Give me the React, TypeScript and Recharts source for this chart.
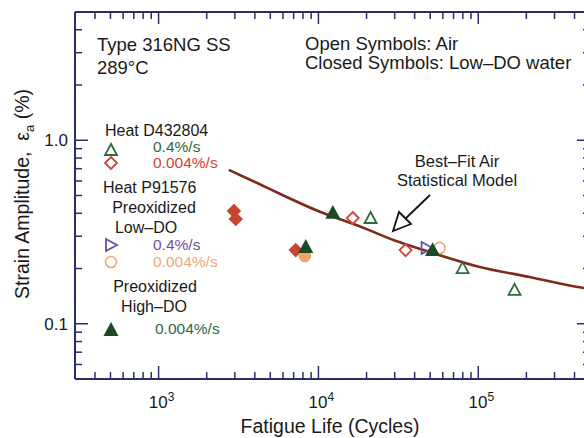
import React from 'react';
import { ComposedChart, Line, Scatter, XAxis, YAxis } from 'recharts';

const AXIS = '#2a2c6e';
const CURVE = '#7f2a1c';
const FONT = '"Liberation Sans", Arial, Helvetica, sans-serif';

const GREEN = '#2f6a3c';
const DARK_GREEN = '#1b4a24';
const RED = '#cc4535';
const PURPLE = '#6e50a4';
const ORANGE = '#f0a97a';

// axis ticks
const xTicks = [400, 500, 600, 700, 800, 900, 1000, 2000, 3000, 4000, 5000, 6000, 7000, 8000, 9000,
  10000, 20000, 30000, 40000, 50000, 60000, 70000, 80000, 90000, 100000, 200000, 300000, 400000];
const xMajor = [1000, 10000, 100000];
const yTicks = [0.06, 0.07, 0.08, 0.09, 0.1, 0.2, 0.3, 0.4, 0.5, 0.6, 0.7, 0.8, 0.9, 1, 2, 3, 4];
const yMajor = [0.1, 1];

// best-fit air statistical model
const curveLife = [2750, 4300, 5730, 10200, 18100, 30000, 49700, 102000, 209000, 449000, 470000];
const curveStrain = [0.69, 0.576, 0.511, 0.408, 0.34, 0.284, 0.246, 0.204, 0.18, 0.157, 0.156];

// Heat D432804, air, 0.4%/s (open triangles)
const airFastLife = [21200, 79800, 168600];
const airFastStrain = [0.377, 0.201, 0.153];
// Heat D432804, air, 0.004%/s (open diamonds)
const airSlowLife = [16400, 35100];
const airSlowStrain = [0.377, 0.252];
// closed diamonds, water 0.004%/s
const wetSlowLife = [2960, 3040, 7210];
const wetSlowStrain = [0.412, 0.372, 0.252];
// closed triangles
const wetFastLife = [12300, 8330, 51800];
const wetFastStrain = [0.402, 0.262, 0.252];
// Heat P91576 preoxidized low-DO
const p9FastLife = [47500];
const p9FastStrain = [0.259];
const p9SlowLife = [57300];
const p9SlowStrain = [0.259];
const p9WetLife = [8220];
const p9WetStrain = [0.234];

const pts = (xs: number[], ys: number[]) => xs.map((x, i) => ({ life: x, strain: ys[i] }));

const tri = (cx: number, cy: number, fill: string, stroke: string) => (
  <polygon points={`${cx},${cy - 6} ${cx - 6},${cy + 5} ${cx + 6},${cy + 5}`} fill={fill} stroke={stroke} strokeWidth={1.8} />
);
const triRight = (cx: number, cy: number, fill: string, stroke: string) => (
  <polygon points={`${cx + 6},${cy} ${cx - 5},${cy - 6} ${cx - 5},${cy + 6}`} fill={fill} stroke={stroke} strokeWidth={1.8} />
);
const diamond = (cx: number, cy: number, fill: string, stroke: string) => (
  <polygon points={`${cx},${cy - 6} ${cx + 6},${cy} ${cx},${cy + 6} ${cx - 6},${cy}`} fill={fill} stroke={stroke} strokeWidth={1.8} />
);
const circle = (cx: number, cy: number, fill: string, stroke: string) => (
  <circle cx={cx} cy={cy} r={5.5} fill={fill} stroke={stroke} strokeWidth={1.6} />
);

const shapeOf = (fn: any, fill: string, stroke: string) => (p: any) => fn(p.cx, p.cy, fill, stroke);

const BottomTick = (p: any) => {
  const v = p.payload.value;
  const major = xMajor.includes(v);
  return (
    <g>
      <line x1={p.x} y1={p.y} x2={p.x} y2={p.y - (major ? 13 : 7)} stroke={AXIS} strokeWidth={1.5} />
      {major && (
        <text x={p.x + 3} y={p.y + 29} textAnchor="middle" fontSize={17} fill="#1a1a1a" fontFamily={FONT}>
          10<tspan dy={-7} fontSize={12}>{Math.round(Math.log10(v))}</tspan>
        </text>
      )}
    </g>
  );
};

const TopTick = (p: any) => {
  const major = xMajor.includes(p.payload.value);
  return <line x1={p.x} y1={p.y} x2={p.x} y2={p.y + (major ? 12 : 7)} stroke={AXIS} strokeWidth={1.5} />;
};

const LeftTick = (p: any) => {
  const v = p.payload.value;
  const major = yMajor.includes(v);
  return (
    <g>
      <line x1={p.x} y1={p.y} x2={p.x + (major ? 13 : 7)} y2={p.y} stroke={AXIS} strokeWidth={1.5} />
      {major && (
        <text x={p.x - 7} y={p.y + 6} textAnchor="end" fontSize={17} fill="#1a1a1a" fontFamily={FONT}>
          {v === 1 ? '1.0' : '0.1'}
        </text>
      )}
    </g>
  );
};

const RightTick = (p: any) => {
  const major = yMajor.includes(p.payload.value);
  return <line x1={p.x} y1={p.y} x2={p.x - (major ? 13 : 7)} y2={p.y} stroke={AXIS} strokeWidth={1.5} />;
};

const T = (props: any) => <text fontFamily={FONT} fill="#1a1a1a" {...props} />;

const Overlay = () => (
  <svg width={584} height={438} style={{ position: 'absolute', left: 0, top: 0, pointerEvents: 'none' }}>
    <T x={97} y={51} fontSize={18.5}>Type 316NG SS</T>
    <T x={97} y={74} fontSize={18.5}>289°C</T>
    <T x={305} y={50} fontSize={18.5}>Open Symbols: Air</T>
    <T x={305} y={69} fontSize={18.5}>Closed Symbols: Low–DO water</T>

    <T x={105} y={136} fontSize={16}>Heat D432804</T>
    {tri(111, 150, 'none', GREEN)}
    <T x={153} y={152} fontSize={15.5} fill={GREEN}>0.4%/s</T>
    {diamond(111, 163, 'none', RED)}
    <T x={153} y={168} fontSize={15.5} fill={RED}>0.004%/s</T>
    <T x={103} y={193} fontSize={16}>Heat P91576</T>
    <T x={154} y={213} fontSize={16} textAnchor="middle">Preoxidized</T>
    <T x={146} y={233} fontSize={16} textAnchor="middle">Low–DO</T>
    {triRight(111, 245, 'none', PURPLE)}
    <T x={153} y={250} fontSize={15.5} fill={PURPLE}>0.4%/s</T>
    {circle(111, 262, 'none', ORANGE)}
    <T x={153} y={267} fontSize={15.5} fill={ORANGE}>0.004%/s</T>
    <T x={155} y={292} fontSize={16} textAnchor="middle">Preoxidized</T>
    <T x={154} y={312} fontSize={16} textAnchor="middle">High–DO</T>
    {tri(111, 330, DARK_GREEN, DARK_GREEN)}
    <T x={155} y={334} fontSize={15.5} fill={GREEN}>0.004%/s</T>

    <T x={457} y={167} fontSize={16.5} textAnchor="middle">Best–Fit Air</T>
    <T x={457} y={186} fontSize={16.5} textAnchor="middle">Statistical Model</T>
    <line x1={430} y1={195} x2={404} y2={220} stroke="#111" strokeWidth={1.8} />
    <polygon points="393,231 399,212 411,224" fill="#fff" stroke="#111" strokeWidth={1.8} />

    <T x={330} y={433} fontSize={19.5} textAnchor="middle">Fatigue Life (Cycles)</T>
    <T x={0} y={0} fontSize={19.5} textAnchor="middle" transform="translate(29,194) rotate(-90)">
      {'Strain Amplitude,\u00a0\u00a0ε'}
      <tspan dy={5} fontSize={13}>a</tspan>
      <tspan dy={-5}>{'\u00a0(%)'}</tspan>
    </T>
  </svg>
);

export default function App() {
  return (
    <div style={{ position: 'absolute', left: 0, top: 0, width: 584, height: 438, overflow: 'hidden', background: '#fff' }}>
      <ComposedChart width={592} height={438} margin={{ top: 11, right: 1, bottom: 0, left: 0 }}>
        <XAxis xAxisId="b" dataKey="life" type="number" scale="log" domain={[300, 500000]} allowDataOverflow
          ticks={xTicks} interval={0} tickSize={0} tickMargin={0} tickLine={false} tick={BottomTick}
          axisLine={{ stroke: AXIS, strokeWidth: 2 }} height={59} />
        <XAxis xAxisId="t" orientation="top" dataKey="life" type="number" scale="log" domain={[300, 500000]} allowDataOverflow
          ticks={xTicks} interval={0} tickSize={0} tickMargin={0} tickLine={false} tick={TopTick}
          axisLine={{ stroke: AXIS, strokeWidth: 2 }} height={1} />
        <YAxis yAxisId="l" dataKey="strain" type="number" scale="log" domain={[0.05, 5]} allowDataOverflow
          ticks={yTicks} interval={0} tickSize={0} tickMargin={0} tickLine={false} tick={LeftTick}
          axisLine={{ stroke: AXIS, strokeWidth: 2 }} width={75} />
        <YAxis yAxisId="r" orientation="right" dataKey="strain" type="number" scale="log" domain={[0.05, 5]} allowDataOverflow
          ticks={yTicks} interval={0} tickSize={0} tickMargin={0} tickLine={false} tick={RightTick}
          axisLine={{ stroke: AXIS, strokeWidth: 2 }} width={1} />

        <Line xAxisId="b" yAxisId="l" data={pts(curveLife, curveStrain)} dataKey="strain" type="monotone"
          stroke={CURVE} strokeWidth={2.6} dot={false} isAnimationActive={false} />

        <Scatter xAxisId="b" yAxisId="l" data={pts(wetSlowLife, wetSlowStrain)} dataKey="strain"
          shape={shapeOf(diamond, '#c8452f', '#c8452f')} isAnimationActive={false} />
        <Scatter xAxisId="b" yAxisId="l" data={pts(p9WetLife, p9WetStrain)} dataKey="strain"
          shape={shapeOf(circle, '#f2a36e', '#f2a36e')} isAnimationActive={false} />
        <Scatter xAxisId="b" yAxisId="l" data={pts(airSlowLife, airSlowStrain)} dataKey="strain"
          shape={shapeOf(diamond, 'none', RED)} isAnimationActive={false} />
        <Scatter xAxisId="b" yAxisId="l" data={pts(airFastLife, airFastStrain)} dataKey="strain"
          shape={shapeOf(tri, 'none', GREEN)} isAnimationActive={false} />
        <Scatter xAxisId="b" yAxisId="l" data={pts(p9FastLife, p9FastStrain)} dataKey="strain"
          shape={shapeOf(triRight, 'none', PURPLE)} isAnimationActive={false} />
        <Scatter xAxisId="b" yAxisId="l" data={pts(p9SlowLife, p9SlowStrain)} dataKey="strain"
          shape={shapeOf(circle, 'none', ORANGE)} isAnimationActive={false} />
        <Scatter xAxisId="b" yAxisId="l" data={pts(wetFastLife, wetFastStrain)} dataKey="strain"
          shape={shapeOf(tri, DARK_GREEN, DARK_GREEN)} isAnimationActive={false} />
      </ComposedChart>
      <Overlay />
    </div>
  );
}
